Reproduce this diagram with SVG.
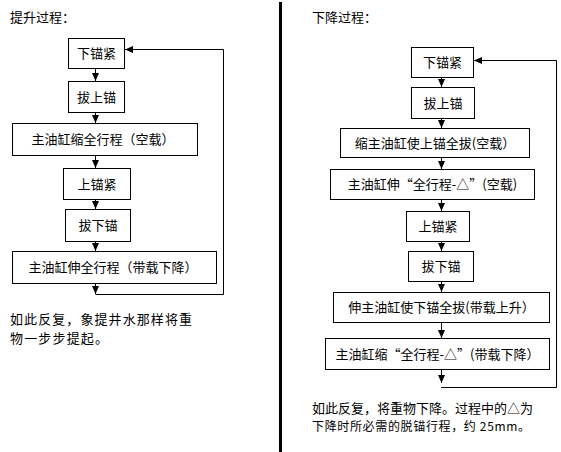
<svg xmlns="http://www.w3.org/2000/svg" width="561" height="452" viewBox="0 0 561 452">
<style>
.box{fill:#fff;stroke:#000;stroke-width:1}
.t{font-family:"Noto Sans CJK SC","Liberation Sans",sans-serif;font-size:13px;fill:#000;text-anchor:middle}
.p{font-family:"Noto Sans CJK SC","Liberation Sans",sans-serif;font-size:13px;fill:#000}
.c{fill:none;stroke:#000;stroke-width:1}
</style>
<defs>
<marker id="ah" markerUnits="userSpaceOnUse" markerWidth="9" markerHeight="9" viewBox="0 0 9 9" refX="8" refY="4.5" orient="auto">
<path d="M0,1 L8,4.5 L0,8 Z" fill="#000"/>
</marker>
</defs>
<rect width="561" height="452" fill="#fff"/>
<rect x="279" y="2" width="3" height="450" fill="#000"/>
<text class="p" x="10" y="22">提升过程：</text>
<text class="p" x="312" y="22">下降过程：</text>

<g id="connectors">
<line class="c" x1="95.5" y1="68" x2="95.5" y2="81" marker-end="url(#ah)"/>
<line class="c" x1="95.5" y1="112" x2="95.5" y2="123" marker-end="url(#ah)"/>
<line class="c" x1="95.5" y1="155" x2="95.5" y2="168" marker-end="url(#ah)"/>
<line class="c" x1="95.5" y1="199" x2="95.5" y2="209" marker-end="url(#ah)"/>
<line class="c" x1="95.5" y1="241" x2="95.5" y2="251" marker-end="url(#ah)"/>
<line class="c" x1="95.5" y1="283" x2="95.5" y2="294" marker-end="url(#ah)"/>
<path class="c" d="M95.5 294.5 H223.5 V49.5 H125" marker-end="url(#ah)"/>

<line class="c" x1="441.5" y1="77" x2="441.5" y2="87" marker-end="url(#ah)"/>
<line class="c" x1="441.5" y1="118" x2="441.5" y2="128" marker-end="url(#ah)"/>
<line class="c" x1="441.5" y1="157" x2="441.5" y2="169" marker-end="url(#ah)"/>
<line class="c" x1="441.5" y1="199" x2="441.5" y2="211" marker-end="url(#ah)"/>
<line class="c" x1="441.5" y1="241" x2="441.5" y2="251" marker-end="url(#ah)"/>
<line class="c" x1="441.5" y1="281" x2="441.5" y2="292" marker-end="url(#ah)"/>
<line class="c" x1="441.5" y1="322" x2="441.5" y2="338" marker-end="url(#ah)"/>
<line class="c" x1="441.5" y1="369" x2="441.5" y2="383" marker-end="url(#ah)"/>
<path class="c" d="M441 387.5 H556.5 V60.5 H474" marker-end="url(#ah)"/>
</g>

<g id="L1"><rect class="box" x="68.5" y="38.5" width="56" height="30"/><text class="t" x="96.5" y="58">下锚紧</text></g>
<g id="L2"><rect class="box" x="68.5" y="81.5" width="56" height="31"/><text class="t" x="96.5" y="101.5">拔上锚</text></g>
<g id="L3"><rect class="box" x="12.5" y="123.5" width="185" height="32"/><text class="t" x="103" y="144">主油缸缩全行程（空载）</text></g>
<g id="L4"><rect class="box" x="63.5" y="168.5" width="67" height="31"/><text class="t" x="97" y="189">上锚紧</text></g>
<g id="L5"><rect class="box" x="65.5" y="209.5" width="65" height="32"/><text class="t" x="98" y="230">拔下锚</text></g>
<g id="L6"><rect class="box" x="12.5" y="251.5" width="204" height="32"/><text class="t" x="113" y="272">主油缸伸全行程（带载下降）</text></g>
<text class="p" x="10" y="324" textLength="182">如此反复，象提井水那样将重</text>
<text class="p" x="10" y="343" textLength="98">物一步步提起。</text>

<g id="R1"><rect class="box" x="411.5" y="47.5" width="62" height="30"/><text class="t" x="442.5" y="67">下锚紧</text></g>
<g id="R2"><rect class="box" x="411.5" y="87.5" width="63" height="31"/><text class="t" x="443" y="108">拔上锚</text></g>
<g id="R3"><rect class="box" x="340.5" y="128.5" width="189" height="29"/><text class="t" x="435" y="148">缩主油缸使上锚全拔(空载）</text></g>
<g id="R4"><rect class="box" x="330.5" y="169.5" width="204" height="30"/><text class="t" x="432.5" y="189">主油缸伸“全行程-△”(空载)</text></g>
<g id="R5"><rect class="box" x="406.5" y="211.5" width="63" height="30"/><text class="t" x="438" y="231">上锚紧</text></g>
<g id="R6"><rect class="box" x="408.5" y="251.5" width="65" height="30"/><text class="t" x="441" y="271">拔下锚</text></g>
<g id="R7"><rect class="box" x="333.5" y="292.5" width="216" height="30"/><text class="t" x="441.5" y="312">伸主油缸使下锚全拔(带载上升）</text></g>
<g id="R8"><rect class="box" x="325.5" y="338.5" width="224" height="31"/><text class="t" x="437.5" y="359">主油缸缩“全行程-△”(带载下降）</text></g>
<text class="p" x="312" y="413">如此反复，将重物下降。过程中的△为</text>
<text class="p" x="312" y="431" style="font-size:12px" textLength="218">下降时所必需的脱锚行程，约 25mm。</text>
</svg>
